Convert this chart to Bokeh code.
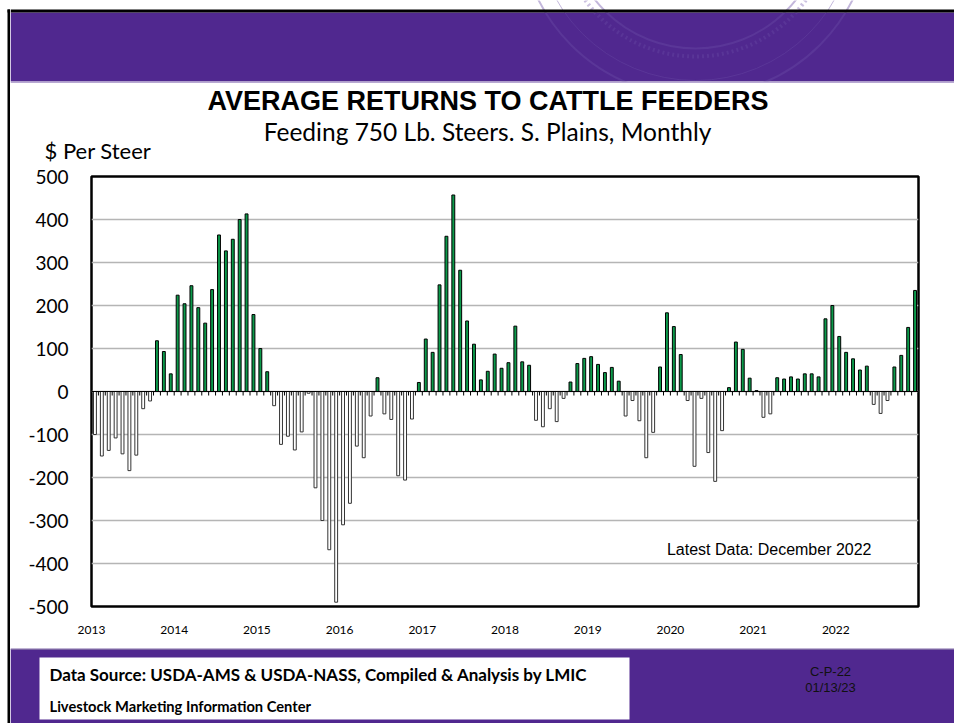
from bokeh.plotting import figure
from bokeh.models import Label, FixedTicker, Range1d, Span, ColumnDataSource
from bokeh.layouts import row, column
from bokeh.embed import file_html
from bokeh.resources import INLINE
import numpy as np

# ---------------- data (USD per steer, monthly) ----------------
years = ["2013", "2014", "2015", "2016", "2017", "2018", "2019", "2020", "2021", "2022"]
r2013 = [-100, -150, -137, -108, -145, -184, -148, -40, -22, 118, 93, 41]
r2014 = [224, 204, 246, 195, 159, 237, 364, 327, 354, 400, 413, 179]
r2015 = [100, 46, -33, -123, -104, -136, -94, -4, -224, -300, -368, -490]
r2016 = [-310, -260, -127, -154, -57, 32, -52, -65, -196, -206, -64, 21]
r2017 = [122, 91, 248, 361, 457, 282, 164, 110, 27, 47, 87, 54]
r2018 = [67, 152, 69, 61, -67, -82, -40, -70, -16, 22, 65, 77]
r2019 = [81, 63, 44, 56, 24, -57, -21, -68, -154, -95, 57, 183]
r2020 = [151, 86, -21, -174, -16, -142, -209, -91, 9, 115, 98, 31]
r2021 = [2, -60, -52, 32, 29, 34, 29, 41, 41, 34, 169, 200]
r2022 = [128, 91, 76, 50, 59, -30, -51, -21, 57, 84, 149, 235]
y_ticks = [-500, -400, -300, -200, -100, 0, 100, 200, 300, 400, 500]

returns = r2013 + r2014 + r2015 + r2016 + r2017 + r2018 + r2019 + r2020 + r2021 + r2022
n = len(returns)
xc = np.arange(n) + 0.5
vals = np.array(returns, dtype=float)
pos = vals >= 0

PURPLE = "#50288f"
GREEN = "#0B9A4A"
PAGE_W, PAGE_H = 954, 723
STRIP = 10
TOP_H = 165
FOOT_Y = 648


def deco_fig(x0, x1, y0, y1):
    """A figure whose data coordinates are page pixels (y grows downward)."""
    f = figure(width=int(x1 - x0), height=int(y1 - y0), output_backend="svg",
               toolbar_location=None, x_range=Range1d(x0, x1), y_range=Range1d(y1, y0),
               min_border=0, x_axis_location=None, y_axis_location=None)
    f.grid.visible = False
    f.outline_line_color = None
    f.background_fill_color = "white"
    f.border_fill_color = "white"
    return f


def rect(f, l, t, r, b, color):
    f.quad(left=[l], right=[r], top=[t], bottom=[b], fill_color=color, line_color=None)


def label(f, x, y, text, size, font="Lato", style="normal", align="left", color="black"):
    f.add_layout(Label(x=x, y=y, text=text, text_font=font, text_font_size=size,
                       text_font_style=style, text_align=align, text_baseline="middle",
                       text_color=color))


# ---------------- left strip (page border line) ----------------
strip = deco_fig(0, STRIP, 0, PAGE_H)
rect(strip, 9.5, 12, STRIP, 81, PURPLE)
rect(strip, 9.5, 81, STRIP, 82.5, "#b7a8d2")
rect(strip, 9.5, FOOT_Y, STRIP, PAGE_H, PURPLE)
rect(strip, 7, 9, STRIP, 12, "black")
rect(strip, 7, 9, 9.5, PAGE_H, "black")

# ---------------- top banner with titles ----------------
top = deco_fig(STRIP, PAGE_W, 0, TOP_H)
rect(top, STRIP, 12, PAGE_W, 81, PURPLE)
# faint seal watermark rings
top.circle(x=[695, 695, 695], y=[-80, -80, -80], radius=[176, 160, 128],
           fill_color=None, line_color="#6a4ca6", line_alpha=0.4, line_width=[2, 1, 2])
top.circle(x=[695], y=[-80], radius=[136], fill_color=None, line_color="#6a4ca6",
           line_alpha=0.35, line_width=4, line_dash="2 3")
rect(top, STRIP, 82.5, PAGE_W, TOP_H, "white")
rect(top, STRIP, 81, PAGE_W, 82.5, "#b7a8d2")
rect(top, STRIP, 9, PAGE_W, 12, "black")
label(top, 487.5, 100, "AVERAGE RETURNS TO CATTLE FEEDERS", "27px", "Liberation Sans", "bold", "center")
label(top, 487, 131, "Feeding 750 Lb. Steers. S. Plains, Monthly", "24.5px", "Lato", "normal", "center")
label(top, 44, 150, "$ Per Steer", "22px")

# ---------------- main chart ----------------
FRAME_L, FRAME_R, FRAME_T, FRAME_B = 91, 918, 176, 606
p = figure(width=PAGE_W - STRIP, height=FOOT_Y - TOP_H, output_backend="svg",
           toolbar_location=None, x_range=Range1d(0, n), y_range=Range1d(-500, 500),
           min_border_left=FRAME_L - STRIP, min_border_right=PAGE_W - FRAME_R,
           min_border_top=FRAME_T - TOP_H, min_border_bottom=FOOT_Y - FRAME_B)
p.background_fill_color = "white"
p.border_fill_color = "white"
p.outline_line_color = "black"
p.outline_line_width = 2.5

p.xgrid.visible = False
p.ygrid.ticker = FixedTicker(ticks=y_ticks)
p.ygrid.grid_line_color = "#b5b5b5"
p.ygrid.grid_line_width = 1.5

p.yaxis.ticker = FixedTicker(ticks=y_ticks)
p.yaxis.major_label_overrides = {t: str(t) for t in y_ticks}
p.yaxis.axis_line_color = None
p.yaxis.major_tick_line_color = None
p.yaxis.minor_tick_line_color = None
p.yaxis.major_label_standoff = 17
p.yaxis.major_label_text_font = "Lato"
p.yaxis.major_label_text_font_size = "19px"
p.yaxis.major_label_text_color = "black"

year_pos = [12 * i for i in range(len(years))]
p.xaxis.ticker = FixedTicker(ticks=year_pos)
p.xaxis.major_label_overrides = {tp: y for tp, y in zip(year_pos, years)}
p.xaxis.axis_line_color = None
p.xaxis.major_tick_line_color = None
p.xaxis.minor_tick_line_color = None
p.xaxis.major_label_standoff = 13
p.xaxis.major_label_text_font = "Lato"
p.xaxis.major_label_text_font_size = "12px"
p.xaxis.major_label_text_color = "black"

src_pos = ColumnDataSource(dict(x=xc[pos], top=vals[pos]))
src_neg = ColumnDataSource(dict(x=xc[~pos], top=vals[~pos]))
p.vbar(x="x", top="top", bottom=0, width=0.42, source=src_pos,
       fill_color=GREEN, line_color="black", line_width=1)
p.vbar(x="x", top="top", bottom=0, width=0.42, source=src_neg,
       fill_color="white", line_color="#333333", line_width=1)

p.add_layout(Span(location=0, dimension="width", line_color="black", line_width=1))
bounds = np.arange(n + 1)
tick_len = 4 * 1000 / (FRAME_B - FRAME_T)
p.segment(x0=bounds, y0=np.zeros(n + 1), x1=bounds, y1=np.full(n + 1, -tick_len),
          line_color="black", line_width=1)

p.add_layout(Label(x=83.5, y=-367, text="Latest Data: December 2022",
                   text_font="Liberation Sans", text_font_size="16px",
                   text_baseline="middle", text_color="black"))

# ---------------- footer ----------------
foot = deco_fig(STRIP, PAGE_W, FOOT_Y, PAGE_H)
rect(foot, STRIP, FOOT_Y, PAGE_W, PAGE_H, PURPLE)
rect(foot, STRIP, FOOT_Y, PAGE_W, FOOT_Y + 1.2, "#8878a8")
rect(foot, 39, 657, 629, 719, "white")
label(foot, 49, 674, "Data Source:  USDA-AMS & USDA-NASS, Compiled & Analysis by LMIC", "17px", "Lato", "bold")
label(foot, 49, 705, "Livestock Marketing Information Center", "14.7px", "Lato", "bold")
label(foot, 830, 671, "C-P-22", "13px", "Liberation Sans", "normal", "center", "#111111")
label(foot, 830, 687, "01/13/23", "13px", "Liberation Sans", "normal", "center", "#111111")

layout = row(strip, column(row(top), row(p), row(foot)))
open("out.html", "w").write(file_html(layout, INLINE))
